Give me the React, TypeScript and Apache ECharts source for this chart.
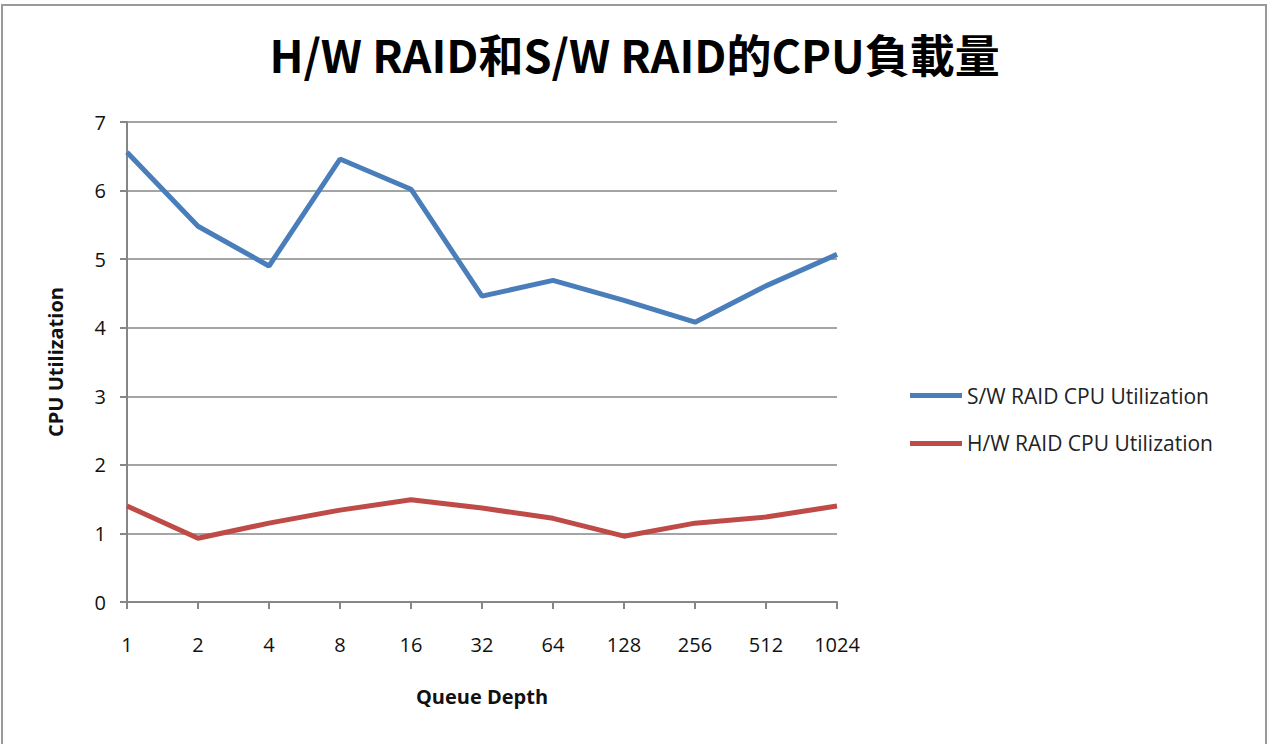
import React, { useEffect, useRef } from "react";
import * as echarts from "echarts";

const categories = ["1", "2", "4", "8", "16", "32", "64", "128", "256", "512", "1024"];
const swRaid = [6.56, 5.48, 4.9, 6.46, 6.02, 4.46, 4.69, 4.4, 4.08, 4.61, 5.07];
const hwRaid = [1.4, 0.93, 1.15, 1.34, 1.49, 1.37, 1.22, 0.96, 1.15, 1.24, 1.4];
const seriesNames = ["S/W RAID CPU Utilization", "H/W RAID CPU Utilization"];
const titleText = "H/W RAID和S/W RAID的CPU負載量";

const FONT = "'Open Sans', 'Noto Sans CJK TC', sans-serif";

export default function App() {
  const ref = useRef<HTMLDivElement>(null);
  useEffect(() => {
    document.body.style.margin = "0";
    const chart = echarts.init(ref.current!, null, { renderer: "svg" });
    chart.setOption({
      animation: false,
      backgroundColor: "#ffffff",
      title: {
        text: titleText,
        left: "center",
        top: 26,
        textStyle: {
          fontFamily: "'Noto Sans CJK TC', sans-serif",
          fontSize: 45,
          fontWeight: "bold",
          color: "#000000",
        },
      },
      graphic: [
        {
          type: "rect",
          shape: { x: 2, y: 5, width: 1264, height: 745 },
          style: { fill: "none", stroke: "#9a9a9a", lineWidth: 2 },
        },
      ],
      legend: {
        orient: "vertical",
        left: 905,
        top: 380,
        itemGap: 27,
        itemWidth: 52,
        itemHeight: 5,
        icon: "rect",
        textStyle: { fontFamily: FONT, fontSize: 21, color: "#222" },
        data: seriesNames,
      },
      grid: { left: 127, right: 1269 - 837, top: 122, bottom: 744 - 602 },
      xAxis: {
        type: "category",
        data: categories,
        boundaryGap: false,
        name: "Queue Depth",
        nameLocation: "middle",
        nameGap: 84,
        nameTextStyle: { fontFamily: FONT, fontSize: 20, fontWeight: "bold", color: "#111" },
        axisLine: { lineStyle: { color: "#868686", width: 2 } },
        axisTick: { show: true, length: 7, alignWithLabel: true, lineStyle: { color: "#868686", width: 2 } },
        axisLabel: { fontFamily: FONT, fontSize: 20, color: "#111", margin: 32 },
        splitLine: { show: false },
      },
      yAxis: {
        type: "value",
        min: 0,
        max: 7,
        interval: 1,
        name: "CPU Utilization",
        nameLocation: "middle",
        nameGap: 62,
        nameTextStyle: { fontFamily: FONT, fontSize: 20, fontWeight: "bold", color: "#111" },
        axisLine: { show: true, lineStyle: { color: "#868686", width: 2 } },
        axisTick: { show: true, length: 7, lineStyle: { color: "#868686", width: 2 } },
        axisLabel: { fontFamily: FONT, fontSize: 20, color: "#111", margin: 21 },
        splitLine: { show: true, lineStyle: { color: "#868686", width: 1.5 } },
      },
      series: [
        {
          name: seriesNames[0],
          type: "line",
          data: swRaid,
          symbol: "none",
          lineStyle: { color: "#4a7ebb", width: 5 },
          itemStyle: { color: "#4a7ebb" },
        },
        {
          name: seriesNames[1],
          type: "line",
          data: hwRaid,
          symbol: "none",
          lineStyle: { color: "#be4b48", width: 5 },
          itemStyle: { color: "#be4b48" },
        },
      ],
    });
    return () => chart.dispose();
  }, []);
  return <div ref={ref} style={{ position: "absolute", left: 0, top: 0, width: 1269, height: 744 }} />;
}
